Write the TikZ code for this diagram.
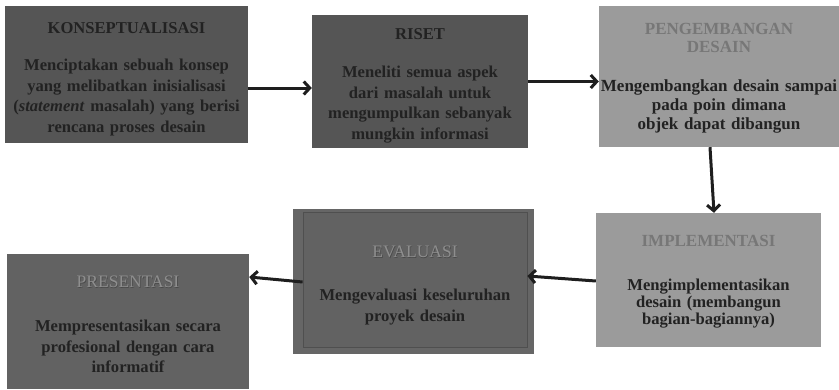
\documentclass[tikz,border=0pt]{standalone}
\usepackage{fontspec}
\setmainfont{Liberation Serif}
\usetikzlibrary{arrows.meta,calc}
\definecolor{darkbox}{HTML}{555555}
\definecolor{lightbox}{HTML}{9B9B9B}
\definecolor{midbox}{HTML}{626262}
\definecolor{frame}{HTML}{666666}
\definecolor{txt}{HTML}{222222}
\definecolor{ltitle}{HTML}{777777}
\definecolor{engrlight}{HTML}{8E8E8E}
\definecolor{engrdark}{HTML}{4A4A4A}
\definecolor{arrowc}{HTML}{1E1E1E}
\newcommand\engrave[1]{\makebox[0pt][l]{\hspace{0.7pt}\raisebox{-0.7pt}{\textcolor{engrdark}{#1}}}\textcolor{engrlight}{#1}}
\tikzset{
  boxshape/.style={rectangle, inner sep=0pt},
  boxtext/.style={inner sep=0pt, align=center, text=txt,
    font=\fontsize{16.6}{20.7}\selectfont\bfseries},
  flowarrow/.style={draw=arrowc, line width=3pt, -{Straight Barb[length=6pt,width=13pt,line width=3pt]}}
}
\begin{document}
\begin{tikzpicture}[x=1pt,y=-1pt]
\useasboundingbox (0,0) rectangle (839,389);
% KONSEPTUALISASI
\node[boxshape, fill=darkbox, minimum width=243pt, minimum height=137pt] (b1) at (126.5,74.5) {};
\node[boxtext, text width=243pt] (t1) at ([yshift=-5pt]b1.center) {KONSEPTUALISASI\\[16pt]
  Menciptakan sebuah konsep\\ yang melibatkan inisialisasi\\ (\textit{statement} masalah) yang berisi\\ rencana proses desain};
% RISET
\node[boxshape, fill=darkbox, minimum width=216pt, minimum height=133pt] (b2) at (420,81.5) {};
\node[boxtext, text width=216pt] (t2) at ([yshift=-4.5pt]b2.center) {RISET\\[17pt]
  Meneliti semua aspek\\ dari masalah untuk\\ mengumpulkan sebanyak\\ mungkin informasi};
% PENGEMBANGAN DESAIN
\node[boxshape, fill=lightbox, minimum width=240pt, minimum height=141pt] (b3) at (719,76.5) {};
\node[boxtext, text width=242pt, font=\fontsize{17}{18.8}\selectfont\bfseries]
  (t3) at ([yshift=-1.5pt]b3.center) {\textcolor{ltitle}{\fontsize{17}{22}\selectfont PENGEMBANGAN\\ DESAIN}\\[20pt]
  Mengembangkan desain sampai\\ pada poin dimana\\ objek dapat dibangun};
% IMPLEMENTASI
\node[boxshape, fill=lightbox, minimum width=225pt, minimum height=134pt] (b4) at (708.5,280) {};
\node[boxtext, text width=222pt, font=\fontsize{16.6}{16.8}\selectfont\bfseries]
  (t4) at ([yshift=-1.5pt]b4.center) {\textcolor{ltitle}{\fontsize{17}{20}\selectfont IMPLEMENTASI}\\[27pt]
  Mengimplementasikan\\ desain (membangun\\ bagian-bagiannya)};
% EVALUASI frame + inner
\node[boxshape, fill=frame, minimum width=241pt, minimum height=145pt] (b5f) at (413.5,281.5) {};
\node[boxshape, fill=midbox, draw=frame!115, line width=0.8pt, minimum width=224pt, minimum height=135pt]
  (b5) at (415,279.5) {};
\node[boxtext, text width=222pt] (t5) at ([yshift=-6pt]b5.center) {{\fontsize{17.5}{20}\selectfont\mdseries\engrave{EVALUASI}}\\[22pt]
  Mengevaluasi keseluruhan\\ proyek desain};
% PRESENTASI
\node[boxshape, fill=midbox, minimum width=242pt, minimum height=135pt] (b6) at (128,321.5) {};
\node[boxtext, text width=240pt] (t6) at ([yshift=-3pt]b6.center) {{\fontsize{17.5}{20}\selectfont\mdseries\engrave{PRESENTASI}}\\[23pt]
  Mempresentasikan secara\\ profesional dengan cara\\ informatif};
% arrows (yshift is in canvas units: negative = down)
\draw[flowarrow] ([yshift=-13.5pt]b1.east) -- ([yshift=-13.5pt]b1.east -| b2.west);
\draw[flowarrow] (b2.east) -- (b2.east -| b3.west);
\draw[flowarrow] ([xshift=-9pt]b3.south) -- ([xshift=5.5pt]b4.north);
\draw[flowarrow] ([yshift=-1pt]b4.west) -- ([yshift=3.5pt]b5.east);
\draw[flowarrow] ([yshift=-2.5pt]b5.west) -- ([yshift=44.5pt]b6.east);
\end{tikzpicture}
\end{document}
